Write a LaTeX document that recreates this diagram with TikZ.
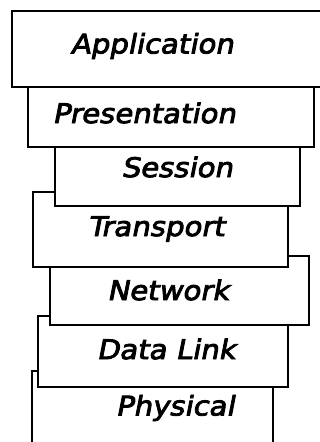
\documentclass[tikz,border=0pt]{standalone}
\usepackage{fontspec}
\newfontfamily\handfont[FakeBold=3, FakeSlant=0.18]{DejaVu Sans}
\newcommand{\layername}[1]{\scalebox{1.08}[1]{#1}}
\begin{document}
\begin{tikzpicture}[x=1pt,y=-1pt,
  layer/.style={draw=black, fill=white, line width=2.8pt, anchor=north west,
    inner sep=0pt, outer sep=0pt},
  lbl/.style={font=\handfont\fontsize{27}{31}\selectfont, inner sep=0pt}]
\useasboundingbox (0,0) rectangle (320,442);
\clip (0,0) rectangle (320,442);
% layers drawn from the bottom up, so each upper box overlaps the one below
\node[layer, minimum width=241pt, minimum height=100pt] (phys) at (32,371) {};
\node[layer, minimum width=250pt, minimum height=71pt] (dlink) at (38,316) {};
\node[layer, minimum width=259pt, minimum height=69pt] (net) at (50,256) {};
\node[layer, minimum width=255pt, minimum height=75pt] (trans) at (33,192) {};
\node[layer, minimum width=245pt, minimum height=66pt] (sess) at (55,140) {};
\node[layer, minimum width=286pt, minimum height=60pt] (pres) at (28,87) {};
\node[layer, minimum width=320pt, minimum height=76pt] (app) at (12,11) {};
% layer names
\node[lbl] (appT) at (152,46) {\layername{Application}};
\node[lbl] (presT) at (144,113) {\layername{Presentation}};
\node[lbl] (sessT) at (177,167) {\layername{Session}};
\node[lbl] (transT) at (156,229) {\layername{Transport}};
\node[lbl] (netT) at (168,290) {\layername{Network}};
\node[lbl] (dlinkT) at (166,349) {\layername{Data Link}};
\node[lbl] (physT) at (175,408) {\layername{Physical}};
\end{tikzpicture}
\end{document}
